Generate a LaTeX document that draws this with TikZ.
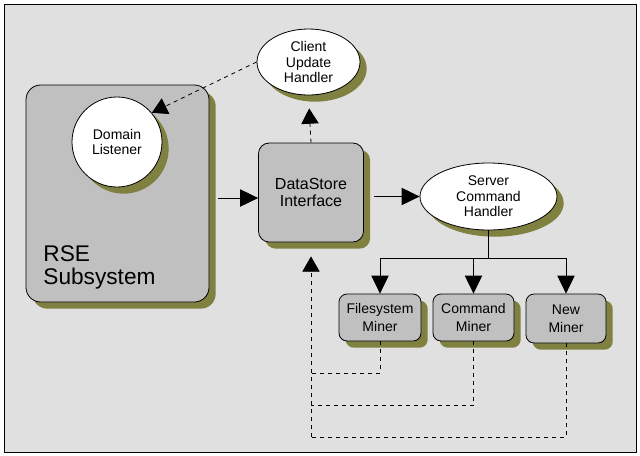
\documentclass[tikz,border=0pt]{standalone}
\usepackage{fontspec}
\setmainfont{Liberation Sans}
\usetikzlibrary{shapes.geometric,shadows,arrows.meta}

\definecolor{bgfill}{RGB}{224,224,224}
\definecolor{boxfill}{RGB}{192,192,192}
\definecolor{shadcol}{RGB}{128,128,64}

\tikzset{
  shad/.style={drop shadow={shadow xshift=5pt,shadow yshift=-5pt,fill=shadcol,opacity=1}},
  rbox/.style={draw,fill=boxfill,rounded corners=6pt,shad,inner sep=0pt,align=center,font=\fontsize{10.5}{13.5}\selectfont},
  oval/.style={draw,fill=white,ellipse,shad,inner sep=0pt,align=center,font=\fontsize{10.5}{11.5}\selectfont},
  arr/.style={-{Triangle[length=13.5pt,width=13pt]}},
  darr/.style={dashed,-{Triangle[length=11.5pt,width=13pt]}},
  ret/.style={dashed}
}

\begin{document}
\begin{tikzpicture}[x=0.75pt,y=0.75pt,yscale=-1,xscale=1,line width=0.6pt]
\useasboundingbox (0,0) rectangle (640,455);

%Shape: Rectangle [frame]
\draw [fill=bgfill] (4,4) rectangle (636,452) ;

%Shape: Rounded Rect [RSE]
\node [rbox,rounded corners=11pt,minimum width=137.25pt,minimum height=162.75pt] (rse) at (117.5,193.5) {};
% Text Node
\node [anchor=north west,inner sep=0pt,align=left,font=\fontsize{17}{17.5}\selectfont] (rsetxt) at (43,245) {RSE\\Subsystem};
%Shape: Circle [Domain Listener]
\node [oval,circle,minimum size=67.5pt] (dl) at (117,142) {Domain\\Listener};

%Shape: Ellipse [Client Update Handler]
\node [oval,minimum width=77.25pt,minimum height=49.5pt] (cuh) at (308.5,62) {Client\\Update\\Handler};
%Shape: Rounded Rect [DataStore]
\node [rbox,rounded corners=8pt,minimum width=78.75pt,minimum height=74.25pt,font=\fontsize{12}{13}\selectfont] (ds) at (311,192.5) {DataStore\\Interface};
%Shape: Ellipse [Server Command Handler]
\node [oval,minimum width=102.75pt,minimum height=50.25pt] (sch) at (488.5,196.5) {Server\\Command\\Handler};

%Shape: Rounded Rect [miners]
\node [rbox,minimum width=61.5pt,minimum height=35.25pt] (fs) at (380,317.5) {Filesystem\\Miner};
\node [rbox,minimum width=60.75pt,minimum height=35.25pt] (cm) at (473.5,317.5) {Command\\Miner};
\node [rbox,minimum width=60pt,minimum height=36.75pt] (nm) at (566,318.5) {New\\Miner};

%Straight Lines
\draw [arr,shorten <=6.75pt] (rse.east |- 0,198) -- (ds.west |- 0,198) ;
\draw [darr,shorten >=9.75pt] (ds.north) -- (cuh.south) ;
\draw [darr] (cuh.west) -- (dl.40) ;
\draw [arr,shorten <=7.5pt] (ds.east |- sch.west) -- (sch.west) ;

%Straight Lines [tree]
\draw (sch.south) -- ++(0,28) coordinate (br) ;
\draw (br -| fs.north) -- (br -| nm.north) ;
\foreach \m in {fs,cm,nm}
  \draw [arr] (br -| \m.north) -- (\m.north) ;

%Straight Lines [returns]
\draw [ret] (fs.south) -- ++(0,32) coordinate (fsb) -- (fsb -| ds.south) ;
\draw [ret] (cm.south) -- ++(0,64) coordinate (cmb) -- (cmb -| ds.south) ;
\draw [ret] (nm.south) -- ++(0,94) coordinate (nmb) -- (nmb -| ds.south) ;
\draw [darr,shorten >=10.5pt] (nmb -| ds.south) -- (ds.south) ;

\end{tikzpicture}
\end{document}
